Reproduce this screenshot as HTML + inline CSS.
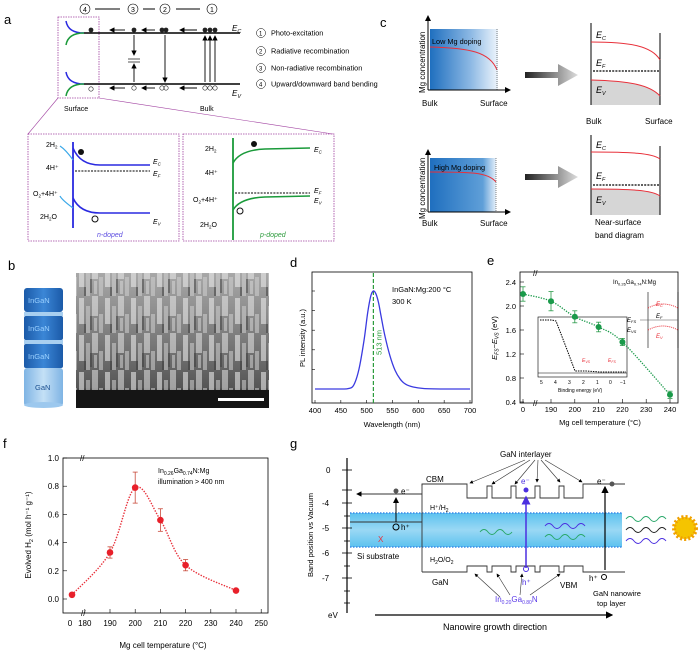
<!DOCTYPE html>
<html><head><meta charset="utf-8"><style>
html,body{margin:0;padding:0;background:#fff;}
svg{display:block;font-family:"Liberation Sans",Arial,sans-serif;}
</style></head><body>
<svg id="fig" width="700" height="656" viewBox="0 0 700 656" xmlns="http://www.w3.org/2000/svg">
<defs>
<linearGradient id="mgLow" x1="0" x2="1"><stop offset="0" stop-color="#1f6fbf"/><stop offset="0.6" stop-color="#8db9e4"/><stop offset="1" stop-color="#eef5fc"/></linearGradient>
<linearGradient id="mgHigh" x1="0" x2="1"><stop offset="0" stop-color="#1f6fbf"/><stop offset="0.8" stop-color="#5f9fd8"/><stop offset="1" stop-color="#e6f0fa"/></linearGradient>
<linearGradient id="arrowGrad" x1="0" x2="1"><stop offset="0" stop-color="#222"/><stop offset="1" stop-color="#ddd"/></linearGradient>
<linearGradient id="cylDark" x1="0" x2="1"><stop offset="0" stop-color="#1b5aa8"/><stop offset="0.5" stop-color="#3b86d6"/><stop offset="1" stop-color="#1b5aa8"/></linearGradient>
<linearGradient id="cylLight" x1="0" x2="1"><stop offset="0" stop-color="#7fb4e4"/><stop offset="0.5" stop-color="#c4e0f6"/><stop offset="1" stop-color="#7fb4e4"/></linearGradient>
<linearGradient id="sem" x1="0" y1="0" x2="0" y2="1"><stop offset="0" stop-color="#a8a8a8"/><stop offset="0.5" stop-color="#7a7a7a"/><stop offset="0.85" stop-color="#555"/><stop offset="0.9" stop-color="#1a1a1a"/><stop offset="1" stop-color="#111"/></linearGradient>
<pattern id="semTex" width="26" height="37" patternUnits="userSpaceOnUse">
  <rect x="1" y="2" width="5" height="26" fill="#e8e8e8" opacity="0.6"/>
  <rect x="8" y="10" width="4" height="27" fill="#d0d0d0" opacity="0.55"/>
  <rect x="14" y="0" width="6" height="20" fill="#f0f0f0" opacity="0.5"/>
  <rect x="21" y="18" width="4" height="19" fill="#cfcfcf" opacity="0.55"/>
  <rect x="6" y="28" width="2" height="9" fill="#333" opacity="0.5"/>
  <rect x="12" y="20" width="2" height="14" fill="#333" opacity="0.45"/>
  <rect x="16" y="22" width="3" height="13" fill="#dcdcdc" opacity="0.5"/>
</pattern>
<linearGradient id="bandBlue" x1="0" y1="0" x2="0" y2="1"><stop offset="0" stop-color="#5cc2ef"/><stop offset="0.5" stop-color="#9ad8f4"/><stop offset="1" stop-color="#5cc2ef"/></linearGradient>
<marker id="ah" markerWidth="6" markerHeight="6" refX="5" refY="3" orient="auto"><path d="M0,0 L6,3 L0,6 z" fill="#000"/></marker>
<marker id="ahb" markerWidth="6" markerHeight="6" refX="5" refY="3" orient="auto"><path d="M0,0 L6,3 L0,6 z" fill="#4b2fe0"/></marker>
</defs>

<!-- ============ PANEL A ============ -->
<g font-size="7">
  <text x="4" y="24" font-size="13">a</text>
  <g font-size="7">
    <circle cx="85" cy="9" r="5" fill="none" stroke="#000" stroke-width="0.6"/><text x="83" y="12">4</text>
    <line x1="95" y1="9" x2="120" y2="9" stroke="#000"/>
    <circle cx="133" cy="9" r="5" fill="none" stroke="#000" stroke-width="0.6"/><text x="131" y="12">3</text>
    <line x1="143" y1="9" x2="155" y2="9" stroke="#000"/>
    <circle cx="165" cy="9" r="5" fill="none" stroke="#000" stroke-width="0.6"/><text x="163" y="12">2</text>
    <line x1="176" y1="9" x2="200" y2="9" stroke="#000"/>
    <circle cx="212" cy="9" r="5" fill="none" stroke="#000" stroke-width="0.6"/><text x="210" y="12">1</text>
  </g>
  <rect x="58" y="17" width="41" height="81" fill="none" stroke="#a040a0" stroke-width="0.8" stroke-dasharray="1.5,1"/>
  <line x1="84" y1="33" x2="240" y2="33" stroke="#000" stroke-width="1.6"/>
  <line x1="84" y1="84" x2="240" y2="84" stroke="#000" stroke-width="1.6"/>
  <path d="M66,21 Q68,33 84,33" fill="none" stroke="#2a2ae0" stroke-width="1.5"/>
  <path d="M66,45 Q68,33 84,33" fill="none" stroke="#1a9a3a" stroke-width="1.5"/>
  <path d="M66,72 Q68,84 84,84" fill="none" stroke="#2a2ae0" stroke-width="1.5"/>
  <path d="M66,96 Q68,84 84,84" fill="none" stroke="#1a9a3a" stroke-width="1.5"/>
  <g fill="#222"><circle cx="91" cy="30" r="2.4"/><circle cx="134" cy="30" r="2.4"/><circle cx="162" cy="30" r="2.4"/><circle cx="166" cy="30" r="2.4"/><circle cx="205" cy="30" r="2.4"/><circle cx="210" cy="30" r="2.4"/><circle cx="215" cy="30" r="2.4"/></g>
  <g fill="none" stroke="#222" stroke-width="0.6"><circle cx="91" cy="89" r="2.2"/><circle cx="134" cy="88" r="2.2"/><circle cx="162" cy="88" r="2.2"/><circle cx="166" cy="88" r="2.2"/><circle cx="205" cy="88" r="2.2"/><circle cx="210" cy="88" r="2.2"/><circle cx="215" cy="88" r="2.2"/></g>
  <g stroke="#000" stroke-width="0.9" marker-end="url(#ah)">
    <line x1="125" y1="30" x2="110" y2="30"/><line x1="155" y1="30" x2="142" y2="30"/><line x1="197" y1="30" x2="180" y2="30"/>
    <line x1="125" y1="88" x2="110" y2="88"/><line x1="155" y1="88" x2="142" y2="88"/><line x1="197" y1="88" x2="180" y2="88"/>
    <line x1="134" y1="35" x2="134" y2="55"/><line x1="134" y1="82" x2="134" y2="64"/>
    <line x1="165" y1="35" x2="165" y2="82"/>
    <line x1="205" y1="82" x2="205" y2="36"/><line x1="210" y1="82" x2="210" y2="36"/><line x1="215" y1="82" x2="215" y2="36"/>
  </g>
  <line x1="128" y1="59" x2="140" y2="59" stroke="#555"/><line x1="128" y1="62" x2="140" y2="62" stroke="#555"/>
  <text x="232" y="31" font-size="8" font-style="italic">E<tspan font-size="5.5" dy="2">C</tspan></text>
  <text x="232" y="96" font-size="8" font-style="italic">E<tspan font-size="5.5" dy="2">V</tspan></text>
  <g font-size="7.3">
    <circle cx="261" cy="33" r="4.5" fill="none" stroke="#000" stroke-width="0.5"/><text x="259" y="35.5" font-size="6">1</text><text x="271" y="35.5">Photo-excitation</text>
    <circle cx="261" cy="51" r="4.5" fill="none" stroke="#000" stroke-width="0.5"/><text x="259" y="53.5" font-size="6">2</text><text x="271" y="53.5">Radiative recombination</text>
    <circle cx="261" cy="68" r="4.5" fill="none" stroke="#000" stroke-width="0.5"/><text x="259" y="70.5" font-size="6">3</text><text x="271" y="70.5">Non-radiative recombination</text>
    <circle cx="261" cy="84" r="4.5" fill="none" stroke="#000" stroke-width="0.5"/><text x="259" y="86.5" font-size="6">4</text><text x="271" y="86.5">Upward/downward band bending</text>
  </g>
  <text x="64" y="111">Surface</text><text x="200" y="111">Bulk</text>
  <line x1="58" y1="98" x2="28" y2="134" stroke="#a040a0" stroke-width="0.6"/>
  <line x1="99" y1="98" x2="333" y2="134" stroke="#a040a0" stroke-width="0.6"/>
  <rect x="28" y="134" width="151" height="107" fill="none" stroke="#a040a0" stroke-width="0.8" stroke-dasharray="1.5,1"/>
  <rect x="183" y="134" width="151" height="107" fill="none" stroke="#a040a0" stroke-width="0.8" stroke-dasharray="1.5,1"/>
  <!-- n-doped -->
  <line x1="73" y1="142" x2="73" y2="228" stroke="#2a2ae0" stroke-width="1.8"/>
  <path d="M73,148 Q80,165 100,165 L150,165" fill="none" stroke="#2a2ae0" stroke-width="1.6"/>
  <path d="M73,198 Q80,213 100,213 L150,213" fill="none" stroke="#2a2ae0" stroke-width="1.6"/>
  <line x1="75" y1="171" x2="150" y2="171" stroke="#000" stroke-dasharray="2,1.2"/>
  <circle cx="81" cy="152" r="3" fill="#111"/><circle cx="95" cy="219" r="3" fill="none" stroke="#111"/>
  <text x="153" y="164" font-style="italic">E<tspan font-size="4.5" dy="1.5">C</tspan></text>
  <text x="153" y="176" font-style="italic">E<tspan font-size="4.5" dy="1.5">F</tspan></text>
  <text x="153" y="224" font-style="italic">E<tspan font-size="4.5" dy="1.5">V</tspan></text>
  <text x="46" y="147">2H<tspan font-size="4.5" dy="1.5">2</tspan></text><text x="46" y="170">4H⁺</text><text x="33" y="196">O<tspan font-size="4.5" dy="1.5">2</tspan><tspan dy="-1.5">+4H⁺</tspan></text><text x="40" y="219">2H<tspan font-size="4.5" dy="1.5">2</tspan><tspan dy="-1.5">O</tspan></text>
  <path d="M73,160 Q66,150 60,146" fill="none" stroke="#3aa8e8" stroke-width="1.2"/><path d="M73,208 Q62,200 60,196" fill="none" stroke="#3aa8e8" stroke-width="1.2"/>
  <text x="97" y="237" fill="#5a4ae0" font-style="italic">n-doped</text>
  <!-- p-doped -->
  <line x1="233" y1="138" x2="233" y2="240" stroke="#1a9a3a" stroke-width="1.8"/>
  <path d="M233,163 Q240,150 265,149 L310,148" fill="none" stroke="#1a9a3a" stroke-width="1.6"/>
  <path d="M233,210 Q240,198 265,197 L310,196" fill="none" stroke="#1a9a3a" stroke-width="1.6"/>
  <line x1="235" y1="193" x2="310" y2="193" stroke="#000" stroke-dasharray="2,1.2"/>
  <circle cx="254" cy="144" r="3" fill="#111"/><circle cx="240" cy="211" r="3" fill="none" stroke="#111"/>
  <text x="314" y="152" font-style="italic">E<tspan font-size="4.5" dy="1.5">C</tspan></text>
  <text x="314" y="193" font-style="italic">E<tspan font-size="4.5" dy="1.5">F</tspan></text>
  <text x="314" y="203" font-style="italic">E<tspan font-size="4.5" dy="1.5">V</tspan></text>
  <text x="205" y="151">2H<tspan font-size="4.5" dy="1.5">2</tspan></text><text x="205" y="175">4H⁺</text><text x="193" y="202">O<tspan font-size="4.5" dy="1.5">2</tspan><tspan dy="-1.5">+4H⁺</tspan></text><text x="200" y="227">2H<tspan font-size="4.5" dy="1.5">2</tspan><tspan dy="-1.5">O</tspan></text>
  <text x="260" y="237" fill="#2a9a3a" font-style="italic">p-doped</text>
</g>

<!-- ============ PANEL C ============ -->
<g font-size="8">
  <text x="380" y="27" font-size="13">c</text>
  <g>
    <rect x="430" y="29" width="68" height="61" fill="url(#mgLow)"/>
    <path d="M430,47 C470,48 490,52 497,70" fill="none" stroke="#e8303a" stroke-width="1"/>
    <line x1="497" y1="29" x2="497" y2="90" stroke="#333" stroke-dasharray="1,1" stroke-width="0.6"/>
    <line x1="428" y1="90" x2="428" y2="16" stroke="#000" marker-end="url(#ah)"/><line x1="428" y1="90" x2="510" y2="90" stroke="#000" marker-end="url(#ah)"/>
    <text x="432" y="44" font-size="7.3">Low Mg doping</text>
    <text transform="translate(425,93) rotate(-90)">Mg concentration</text>
    <text x="422" y="106">Bulk</text><text x="480" y="106">Surface</text>
  </g>
  <g>
    <rect x="430" y="158" width="66" height="54" fill="url(#mgHigh)"/>
    <path d="M430,172 C470,172 488,172 496,182" fill="none" stroke="#e8303a" stroke-width="1"/>
    <line x1="496" y1="158" x2="496" y2="212" stroke="#333" stroke-dasharray="1,1" stroke-width="0.6"/>
    <line x1="428" y1="212" x2="428" y2="150" stroke="#000" marker-end="url(#ah)"/><line x1="428" y1="212" x2="510" y2="212" stroke="#000" marker-end="url(#ah)"/>
    <text x="434" y="170" font-size="7.3">High Mg doping</text>
    <text transform="translate(425,219) rotate(-90)">Mg concentration</text>
    <text x="422" y="226">Bulk</text><text x="480" y="226">Surface</text>
  </g>
  <path d="M525,72 L558,72 L558,64 L578,75 L558,86 L558,78 L525,78 z" fill="url(#arrowGrad)"/>
  <path d="M525,174 L558,174 L558,166 L578,177 L558,188 L558,180 L525,180 z" fill="url(#arrowGrad)"/>
  <g>
    <path d="M591,80 C630,81 650,85 660,96 L660,105 L591,105 z" fill="#d6d6d6"/>
    <line x1="591" y1="23" x2="591" y2="105" stroke="#000"/><line x1="660" y1="33" x2="660" y2="105" stroke="#000"/>
    <path d="M591,42 C630,42 652,46 660,60" fill="none" stroke="#e8303a"/>
    <path d="M591,80 C630,81 650,85 660,96" fill="none" stroke="#e8303a"/>
    <line x1="593" y1="71" x2="660" y2="71" stroke="#000" stroke-dasharray="2,1.2" stroke-width="1.2"/>
    <text x="596" y="38" font-style="italic" font-size="9">E<tspan font-size="5.5" dy="2">C</tspan></text>
    <text x="596" y="66" font-style="italic" font-size="9">E<tspan font-size="5.5" dy="2">F</tspan></text>
    <text x="596" y="93" font-style="italic" font-size="9">E<tspan font-size="5.5" dy="2">V</tspan></text>
    <text x="586" y="124">Bulk</text><text x="645" y="124">Surface</text>
  </g>
  <g>
    <path d="M591,189 C630,189 652,190 660,196 L660,215 L591,215 z" fill="#d6d6d6"/>
    <line x1="591" y1="135" x2="591" y2="215" stroke="#000"/><line x1="660" y1="146" x2="660" y2="215" stroke="#000"/>
    <path d="M591,152 C630,152 652,153 660,159" fill="none" stroke="#e8303a"/>
    <path d="M591,189 C630,189 652,190 660,196" fill="none" stroke="#e8303a"/>
    <line x1="593" y1="185" x2="660" y2="185" stroke="#000" stroke-dasharray="2,1.2" stroke-width="1.2"/>
    <text x="596" y="148" font-style="italic" font-size="9">E<tspan font-size="5.5" dy="2">C</tspan></text>
    <text x="596" y="179" font-style="italic" font-size="9">E<tspan font-size="5.5" dy="2">F</tspan></text>
    <text x="596" y="203" font-style="italic" font-size="9">E<tspan font-size="5.5" dy="2">V</tspan></text>
    <text x="595" y="225">Near-surface</text><text x="595" y="238">band diagram</text>
  </g>
</g>

<!-- ============ PANEL B ============ -->
<g>
  <text x="8" y="270" font-size="13">b</text>
  <g font-size="7.5" fill="#1a4f90">
    <rect x="24" y="368" width="39" height="38" rx="3" fill="url(#cylLight)"/><ellipse cx="43.5" cy="405" rx="19.5" ry="3" fill="#9cc8ee"/>
    <rect x="24" y="344" width="39" height="24" rx="2" fill="url(#cylDark)"/>
    <rect x="24" y="340" width="39" height="4" fill="#a8cff0"/>
    <rect x="24" y="316" width="39" height="24" rx="2" fill="url(#cylDark)"/>
    <rect x="24" y="312" width="39" height="4" fill="#a8cff0"/>
    <rect x="24" y="288" width="39" height="24" rx="3" fill="url(#cylDark)"/>
    <text x="28" y="303" fill="#9ad0ff">InGaN</text><text x="28" y="331" fill="#9ad0ff">InGaN</text><text x="28" y="359" fill="#9ad0ff">InGaN</text><text x="35" y="390">GaN</text>
  </g>
  <g>
    <rect x="76" y="273" width="193" height="135" fill="url(#sem)"/>
    <rect x="76" y="273" width="193" height="117" fill="url(#semTex)"/>
    <rect x="76" y="390" width="193" height="18" fill="#151515"/>
    <rect x="218" y="398" width="46" height="3" fill="#fff"/>
  </g>
</g>

<!-- ============ PANEL D ============ -->
<g id="panelD" font-size="7.5">
  <text x="290" y="267" font-size="13">d</text>
  <rect x="312" y="272" width="160" height="131" fill="none" stroke="#000" stroke-width="0.8"/>
  <text x="392" y="292">InGaN:Mg:200 °C</text><text x="392" y="304">300 K</text>
  <text x="392" y="427" text-anchor="middle">Wavelength (nm)</text>
  <text transform="translate(305,338) rotate(-90)" text-anchor="middle">PL intensity (a.u.)</text>
</g>

<!-- ============ PANEL E ============ -->
<g id="panelE" font-size="7.5">
  <text x="487" y="265" font-size="13">e</text>
  <rect x="520" y="272" width="158" height="131" fill="none" stroke="#000" stroke-width="0.8"/>
  <text x="613" y="284" font-size="6">In<tspan font-size="4" dy="1.5">0.26</tspan><tspan dy="-1.5">Ga</tspan><tspan font-size="4" dy="1.5">0.74</tspan><tspan dy="-1.5">N:Mg</tspan></text>
  <text x="600" y="425" text-anchor="middle">Mg cell temperature (°C)</text>
  <text transform="translate(497,338) rotate(-90)" text-anchor="middle" font-style="italic">E<tspan font-size="5" dy="1.5">FS</tspan><tspan dy="-1.5">−E</tspan><tspan font-size="5" dy="1.5">VS</tspan><tspan dy="-1.5" font-style="normal"> (eV)</tspan></text>
  <g font-size="5">
    <rect x="538" y="317" width="89" height="60" fill="#fff" stroke="#000" stroke-width="0.6"/>
    <polyline points="540,320 552,320 556,321 566,347 569,355 575,371 586,371 600,372 626,372" fill="none" stroke="#000" stroke-width="1" stroke-dasharray="1.5,1"/>
    <line x1="538" y1="373" x2="627" y2="373" stroke="#000" stroke-width="0.5"/>
    <text x="540" y="384">5</text><text x="554" y="384">4</text><text x="568" y="384">3</text><text x="582" y="384">2</text><text x="596" y="384">1</text><text x="609" y="384">0</text><text x="620" y="384">−1</text>
    <text x="558" y="392">Binding energy (eV)</text>
    <text x="582" y="362" fill="#e8303a" font-style="italic">E<tspan font-size="3.5" dy="1">VS</tspan></text>
    <text x="608" y="362" fill="#e8303a" font-style="italic">E<tspan font-size="3.5" dy="1">FS</tspan></text>
  </g>
  <g font-size="6">
    <line x1="648" y1="292" x2="648" y2="348" stroke="#000" stroke-width="0.6"/><line x1="678" y1="292" x2="678" y2="348" stroke="#000" stroke-width="0.6"/>
    <path d="M648,308 Q663,300 678,308" fill="none" stroke="#e8303a" stroke-dasharray="1,1"/>
    <path d="M648,330 Q663,322 678,330" fill="none" stroke="#e8303a" stroke-dasharray="1,1"/>
    <line x1="640" y1="320" x2="678" y2="320" stroke="#555" stroke-width="0.5"/>
    <text x="656" y="306" fill="#e8303a" font-style="italic">E<tspan font-size="4" dy="1">C</tspan></text>
    <text x="656" y="318" font-style="italic">E<tspan font-size="4" dy="1">F</tspan></text>
    <text x="656" y="338" fill="#e8303a" font-style="italic">E<tspan font-size="4" dy="1">V</tspan></text>
    <text x="627" y="322" font-style="italic">E<tspan font-size="4" dy="1">FS</tspan></text>
    <text x="627" y="332" font-style="italic">E<tspan font-size="4" dy="1">VS</tspan></text>
  </g>
</g>

<!-- ============ PANEL F ============ -->
<g id="panelF" font-size="8">
  <text x="3" y="448" font-size="13">f</text>
  <rect x="63" y="458" width="205" height="155" fill="none" stroke="#000" stroke-width="0.8"/>
  <text x="158" y="473" font-size="7">In<tspan font-size="5" dy="2">0.26</tspan><tspan dy="-2">Ga</tspan><tspan font-size="5" dy="2">0.74</tspan><tspan dy="-2">N:Mg</tspan></text>
  <text x="158" y="484" font-size="7">illumination &gt; 400 nm</text>
  <text x="163" y="648" text-anchor="middle">Mg cell temperature (°C)</text>
  <text transform="translate(31,535) rotate(-90)" text-anchor="middle">Evolved H<tspan font-size="5.5" dy="2">2</tspan><tspan dy="-2"> (mol h⁻¹ g⁻¹)</tspan></text>
</g>

<!-- ============ PANEL G ============ -->
<g font-size="8">
  <text x="290" y="448" font-size="13">g</text>
  <rect x="350" y="513" width="272" height="34" fill="url(#bandBlue)"/>
  <line x1="350" y1="513" x2="622" y2="513" stroke="#3a8ae8" stroke-width="1.5" stroke-dasharray="1.5,1.5"/>
  <line x1="350" y1="547" x2="622" y2="547" stroke="#3a8ae8" stroke-width="1.5" stroke-dasharray="1.5,1.5"/>
  <g>
    <line x1="347" y1="458" x2="347" y2="613" stroke="#000" stroke-width="1.2"/>
    <g stroke="#000" stroke-width="0.8">
      <line x1="342" y1="470" x2="352" y2="470"/><line x1="342" y1="490" x2="352" y2="490"/><line x1="342" y1="503" x2="352" y2="503"/><line x1="344" y1="516" x2="350" y2="516"/><line x1="342" y1="528" x2="352" y2="528"/><line x1="344" y1="541" x2="350" y2="541"/><line x1="342" y1="553" x2="352" y2="553"/><line x1="344" y1="566" x2="350" y2="566"/><line x1="342" y1="578" x2="352" y2="578"/><line x1="344" y1="591" x2="350" y2="591"/><line x1="344" y1="603" x2="350" y2="603"/>
    </g>
    <text x="326" y="473">0</text><text x="322" y="506">-4</text><text x="322" y="531">-5</text><text x="322" y="556">-6</text><text x="322" y="581">-7</text><text x="328" y="618">eV</text>
    <text transform="translate(313,535) rotate(-90)" text-anchor="middle" font-size="7.5">Band position vs Vacuum</text>
  </g>
  <path d="M422,486 L422,484 L467,484 L467,498 L487,498 L487,486 L492,486 L492,498 L511,498 L511,486 L516,486 L516,498 L535,498 L535,486 L540,486 L540,498 L559,498 L559,486 L564,486 L564,498 L583,498 L583,484 L625,484" fill="none" stroke="#333" stroke-width="0.9"/>
  <line x1="422" y1="484" x2="422" y2="572" stroke="#333" stroke-width="0.9"/>
  <line x1="422" y1="494" x2="357" y2="494" stroke="#333" stroke-width="0.9" marker-end="url(#ah)"/>
  <line x1="422" y1="522" x2="350" y2="522" stroke="#333" stroke-width="0.9"/>
  <path d="M422,572 L467,572 L467,566 L487,566 L487,572 L492,572 L492,566 L511,566 L511,572 L516,572 L516,566 L535,566 L535,572 L540,572 L540,566 L559,566 L559,572 L564,572 L564,566 L583,566 L583,572 L625,572" fill="none" stroke="#333" stroke-width="0.9"/>
  <text x="426" y="482">CBM</text><text x="430" y="510" font-size="7">H⁺/H<tspan font-size="5" dy="2">2</tspan></text><text x="430" y="562" font-size="7">H<tspan font-size="5" dy="2">2</tspan><tspan dy="-2">O/O</tspan><tspan font-size="5" dy="2">2</tspan></text>
  <text x="432" y="585">GaN</text><text x="560" y="588">VBM</text>
  <text x="500" y="457">GaN interlayer</text>
  <g stroke="#333" stroke-width="0.6" marker-end="url(#ah)"><line x1="525" y1="460" x2="470" y2="483"/><line x1="530" y1="460" x2="492" y2="484"/><line x1="535" y1="460" x2="515" y2="484"/><line x1="538" y1="460" x2="537" y2="482"/><line x1="541" y1="460" x2="560" y2="482"/><line x1="545" y1="460" x2="582" y2="482"/></g>
  <g stroke="#333" stroke-width="0.6" marker-end="url(#ah)"><line x1="500" y1="597" x2="475" y2="574"/><line x1="510" y1="595" x2="497" y2="574"/><line x1="520" y1="595" x2="522" y2="574"/><line x1="530" y1="595" x2="560" y2="574"/></g>
  <text x="495" y="602" fill="#5a3ae8">In<tspan font-size="5" dy="2">0.20</tspan><tspan dy="-2">Ga</tspan><tspan font-size="5" dy="2">0.80</tspan><tspan dy="-2">N</tspan></text>
  <line x1="526" y1="568" x2="526" y2="497" stroke="#4b2fe0" stroke-width="1.5" marker-end="url(#ahb)"/>
  <circle cx="526" cy="490" r="2.5" fill="#4b2fe0"/><text x="521" y="484" fill="#4b2fe0">e⁻</text>
  <circle cx="526" cy="569" r="2.5" fill="none" stroke="#4b2fe0"/><text x="522" y="585" fill="#4b2fe0">h⁺</text>
  <line x1="605" y1="570" x2="605" y2="487" stroke="#000" stroke-width="1.2" marker-end="url(#ah)"/>
  <text x="597" y="484">e⁻</text><circle cx="612" cy="484" r="2.5" fill="#555"/>
  <text x="589" y="581">h⁺</text><circle cx="604" cy="577" r="2.5" fill="none" stroke="#000"/>
  <circle cx="396" cy="491" r="2.5" fill="#555"/><text x="401" y="494">e⁻</text>
  <line x1="396" y1="522" x2="396" y2="498" stroke="#000" marker-end="url(#ah)"/>
  <circle cx="396" cy="527" r="3" fill="none" stroke="#000"/><text x="401" y="530">h⁺</text>
  <text x="378" y="542" fill="#e8303a">X</text>
  <text x="357" y="559">Si substrate</text>
  <text x="593" y="596" font-size="7.5">GaN nanowire</text><text x="597" y="606" font-size="7.5">top layer</text>
  <g fill="none" stroke-width="1">
    <path d="M626,519 q4,-5 8,0 t8,0 t8,0 t8,0 t8,0" stroke="#2aa86a"/>
    <path d="M626,530 q4,-5 8,0 t8,0 t8,0 t8,0 t8,0" stroke="#222"/>
    <path d="M626,541 q4,-5 8,0 t8,0 t8,0 t8,0 t8,0" stroke="#4b2fe0"/>
    <path d="M545,526 q4,-5 8,0 t8,0 t8,0 t8,0 t8,0" stroke="#4b2fe0"/>
    <path d="M545,537 q4,-5 8,0 t8,0 t8,0 t8,0 t8,0" stroke="#2aa86a"/>
    <path d="M480,532 q4,-5 8,0 t8,0 t8,0 t8,0" stroke="#2aa86a"/>
  </g>
  <g>
    <circle cx="685" cy="528" r="11" fill="#f5c400" stroke="#f0a000" stroke-width="4" stroke-dasharray="2,2"/>
  </g>
  <line x1="375" y1="615" x2="612" y2="615" stroke="#000" stroke-width="1.2" marker-end="url(#ah)"/>
  <text x="495" y="630" text-anchor="middle" font-size="9">Nanowire growth direction</text>
</g>
</svg>

<script>
// ---------- Panel d data ----------
const dWavelengths = [400,450,465,475,485,495,502,508,513,518,523,528,535,545,555,565,575,590,610,650,700];
const dIntensity   = [0,0,0.005,0.04,0.2,0.5,0.78,0.95,1,0.97,0.88,0.74,0.55,0.34,0.19,0.1,0.05,0.02,0.005,0,0];
const dTickLabels  = [400,450,500,550,600,650,700];
const dPeak = 513;
// ---------- Panel e data ----------
const eTemps   = [0,190,200,210,220,240];
const eValues  = [2.2,2.08,1.82,1.65,1.4,0.52];
const eErrors  = [0.12,0.16,0.1,0.08,0.06,0.06];
const eYTicks  = [0.4,0.8,1.2,1.6,2.0,2.4];
const eXTicks  = [190,200,210,220,230,240];
// ---------- Panel f data ----------
const fTemps   = [177,190,200,210,220,240];
const fValues  = [0.03,0.33,0.79,0.56,0.24,0.06];
const fErrors  = [0,0.04,0.11,0.08,0.04,0];
const fYTicks  = [0.0,0.2,0.4,0.6,0.8,1.0];
const fXTicks  = [180,190,200,210,220,230,240,250];

const NS = 'http://www.w3.org/2000/svg';
function mk(tag, attrs, parent){ const e=document.createElementNS(NS,tag); for(const k in attrs) e.setAttribute(k,attrs[k]); parent.appendChild(e); return e; }
function smooth(pts){ let d='M'+pts[0][0]+','+pts[0][1]; for(let i=1;i<pts.length;i++){const p0=pts[i-2]||pts[i-1],p1=pts[i-1],p2=pts[i],p3=pts[i+1]||p2; const c1=[p1[0]+(p2[0]-p0[0])/6,p1[1]+(p2[1]-p0[1])/6], c2=[p2[0]-(p3[0]-p1[0])/6,p2[1]-(p3[1]-p1[1])/6]; d+=' C'+c1+' '+c2+' '+p2;} return d; }

// Panel d
const gD = document.getElementById('panelD');
const dx = w => 315 + (w-400)/300*155;
const dy = v => 389 - v*98;
dTickLabels.forEach(t=>{
  const tk = mk('line',{x1:dx(t),y1:403,x2:dx(t),y2:400,stroke:'#000','stroke-width':0.6},gD);
  
  
  const lb = mk('text',{x:dx(t),y:413,'text-anchor':'middle'},gD); lb.textContent=t;
  
  
});
[0.2,0.4,0.6,0.8,1.0].forEach(v=>{ mk('line',{x1:312,y1:dy(v),x2:315,y2:dy(v),stroke:'#000','stroke-width':0.6},gD); });
const peakLine = mk('line',{x1:dx(dPeak),y1:273,x2:dx(dPeak),y2:403,stroke:'#2a9a3a','stroke-width':1.2,'stroke-dasharray':'4,2'},gD);


const pk = mk('text',{transform:'translate('+(dx(dPeak)+8)+',355) rotate(-90)',fill:'#2a9a3a'},gD); pk.textContent=dPeak+' nm';


const spec = mk('path',{d:smooth(dWavelengths.map((w,i)=>[dx(w),dy(dIntensity[i])])),fill:'none',stroke:'#3a3ae0','stroke-width':1.3},gD);



// Panel e
const gE = document.getElementById('panelE');
const ex = t => t===0 ? 523 : 551 + (t-190)*2.38;
const ey = v => 402 - (v-0.4)*60;
eYTicks.forEach(v=>{
  mk('line',{x1:520,y1:ey(v),x2:524,y2:ey(v),stroke:'#000','stroke-width':0.6},gE);
  const lb=mk('text',{x:516,y:ey(v)+3,'text-anchor':'end'},gE); lb.textContent=v.toFixed(1);
  
  
});
[0].concat(eXTicks).forEach(t=>{
  mk('line',{x1:ex(t),y1:403,x2:ex(t),y2:399,stroke:'#000','stroke-width':0.6},gE);
  const lb=mk('text',{x:ex(t),y:412,'text-anchor':'middle'},gE); lb.textContent=t;
  
  
});
mk('text',{x:533,y:276,'font-size':8},gE).textContent='//';
mk('text',{x:533,y:406,'font-size':8},gE).textContent='//';
const eLine = mk('path',{d:smooth(eTemps.map((t,i)=>[ex(t),ey(eValues[i])])),fill:'none',stroke:'#1a9a4a','stroke-width':1.3,'stroke-dasharray':'1.3,1.3'},gE);


eTemps.forEach((t,i)=>{
  const x=ex(t), y=ey(eValues[i]), e=eErrors[i]*60;
  mk('line',{x1:x,y1:y-e,x2:x,y2:y+e,stroke:'#2a9a4a','stroke-width':0.8},gE);
  mk('line',{x1:x-2.5,y1:y-e,x2:x+2.5,y2:y-e,stroke:'#2a9a4a','stroke-width':0.8},gE);
  mk('line',{x1:x-2.5,y1:y+e,x2:x+2.5,y2:y+e,stroke:'#2a9a4a','stroke-width':0.8},gE);
  const p = mk('circle',{cx:x,cy:y,r:3,fill:'#1a9a4a'},gE);
  
  
});

// Panel f
const gF = document.getElementById('panelF');
const fx = t => t<180 ? 72 : 110 + (t-190)*2.52;
const fy = v => 599 - v*141;
fYTicks.forEach(v=>{
  mk('line',{x1:63,y1:fy(v),x2:67,y2:fy(v),stroke:'#000','stroke-width':0.6},gF);
  const lb=mk('text',{x:59,y:fy(v)+3,'text-anchor':'end'},gF); lb.textContent=v.toFixed(1);
  
  
});
fXTicks.forEach(t=>{
  mk('line',{x1:fx(t),y1:613,x2:fx(t),y2:609,stroke:'#000','stroke-width':0.6},gF);
  const lb=mk('text',{x:fx(t),y:626,'text-anchor':'middle'},gF); lb.textContent=t;
  
  
});
mk('text',{x:70,y:626,'text-anchor':'middle'},gF).textContent='0';
mk('text',{x:80,y:461,'font-size':8},gF).textContent='//';
mk('text',{x:81,y:616,'font-size':8},gF).textContent='//';
const fLine = mk('path',{d:smooth(fTemps.map((t,i)=>[fx(t),fy(fValues[i])])),fill:'none',stroke:'#e8303a','stroke-width':1.4,'stroke-dasharray':'1.4,1.4'},gF);


fTemps.forEach((t,i)=>{
  const x=fx(t), y=fy(fValues[i]), e=fErrors[i]*141;
  if(e>0){
    mk('line',{x1:x,y1:y-e,x2:x,y2:y+e,stroke:'#c84a3a','stroke-width':0.8},gF);
    mk('line',{x1:x-2.5,y1:y-e,x2:x+2.5,y2:y-e,stroke:'#c84a3a','stroke-width':0.8},gF);
    mk('line',{x1:x-2.5,y1:y+e,x2:x+2.5,y2:y+e,stroke:'#c84a3a','stroke-width':0.8},gF);
  }
  const p = mk('circle',{cx:x,cy:y,r:3.3,fill:'#e8202a'},gF);
  
  
});
</script>
</body></html>
